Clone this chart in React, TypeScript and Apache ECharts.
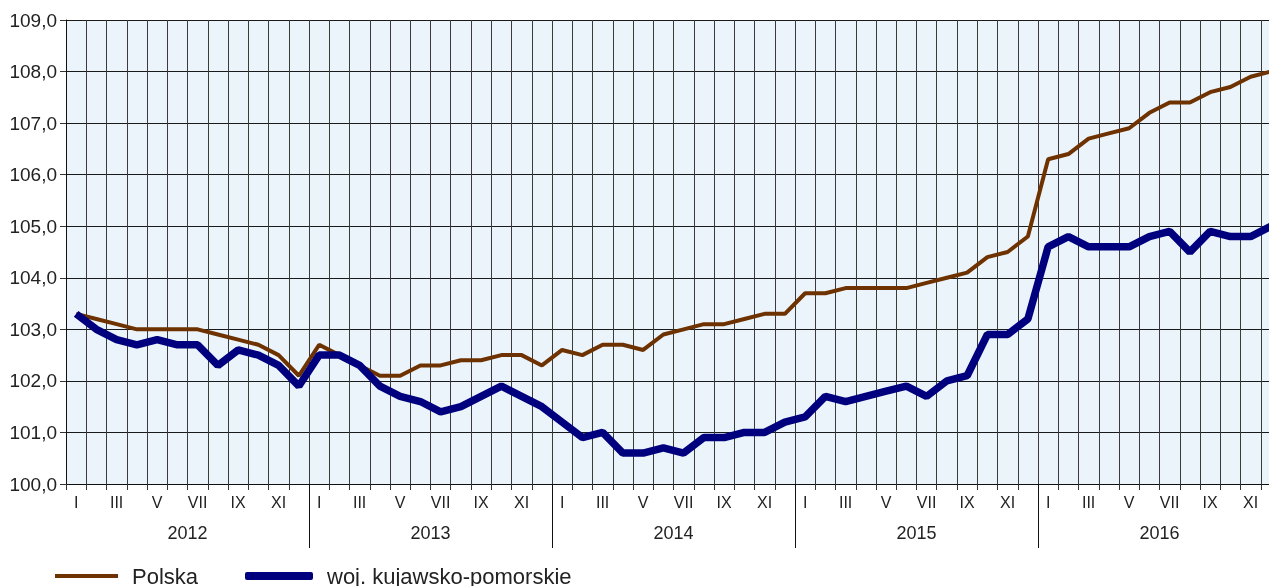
import React, { useEffect, useRef } from "react";
import * as echarts from "echarts";

const monthLabels = ["I", "II", "III", "IV", "V", "VI", "VII", "VIII", "IX", "X", "XI", "XII"];
const years = ["2012", "2013", "2014", "2015", "2016"];
const categories = years.flatMap((y) => monthLabels.map((m) => m + " " + y));

const polska = [
  103.3, 103.2, 103.1, 103.0, 103.0, 103.0, 103.0, 102.9, 102.8, 102.7, 102.5, 102.1,
  102.7, 102.5, 102.3, 102.1, 102.1, 102.3, 102.3, 102.4, 102.4, 102.5, 102.5, 102.3,
  102.6, 102.5, 102.7, 102.7, 102.6, 102.9, 103.0, 103.1, 103.1, 103.2, 103.3, 103.3,
  103.7, 103.7, 103.8, 103.8, 103.8, 103.8, 103.9, 104.0, 104.1, 104.4, 104.5, 104.8,
  106.3, 106.4, 106.7, 106.8, 106.9, 107.2, 107.4, 107.4, 107.6, 107.7, 107.9, 108.0,
];

const kujawsko = [
  103.3, 103.0, 102.8, 102.7, 102.8, 102.7, 102.7, 102.3, 102.6, 102.5, 102.3, 101.9,
  102.5, 102.5, 102.3, 101.9, 101.7, 101.6, 101.4, 101.5, 101.7, 101.9, 101.7, 101.5,
  101.2, 100.9, 101.0, 100.6, 100.6, 100.7, 100.6, 100.9, 100.9, 101.0, 101.0, 101.2,
  101.3, 101.7, 101.6, 101.7, 101.8, 101.9, 101.7, 102.0, 102.1, 102.9, 102.9, 103.2,
  104.6, 104.8, 104.6, 104.6, 104.6, 104.8, 104.9, 104.5, 104.9, 104.8, 104.8, 105.0,
];

const seriesNames = ["Polska", "woj. kujawsko-pomorskie"];
const FONT = "'Liberation Sans', Arial, sans-serif";

export default function App() {
  const ref = useRef<HTMLDivElement>(null);
  useEffect(() => {
    if (!ref.current) return;
    const chart = echarts.init(ref.current, null, { renderer: "svg" });
    chart.setOption({
      animation: false,
      textStyle: { fontFamily: FONT },
      grid: { left: 66, right: 9, top: 20, bottom: 102, show: true, backgroundColor: "#EBF4FA", borderWidth: 0 },
      legend: [
        {
          data: [seriesNames[0]],
          left: 55,
          top: 565,
          padding: 0,
          itemWidth: 63,
          itemHeight: 4,
          icon: "rect",
          textStyle: { fontSize: 22, color: "#222", fontFamily: FONT, padding: [0, 0, 0, 9] },
        },
        {
          data: [seriesNames[1]],
          left: 245,
          top: 565,
          padding: 0,
          itemWidth: 68,
          itemHeight: 8,
          icon: "roundRect",
          textStyle: { fontSize: 22, color: "#222", fontFamily: FONT, padding: [0, 0, 0, 9] },
        },
      ],
      xAxis: [
        {
          type: "category",
          data: categories,
          boundaryGap: true,
          position: "bottom",
          axisLine: { show: true, lineStyle: { color: "#111", width: 1 } },
          axisTick: { show: true, interval: 0, length: 6, lineStyle: { color: "#333" } },
          axisLabel: {
            interval: 1,
            margin: 10,
            fontSize: 16,
            color: "#222",
            fontFamily: FONT,
            formatter: (v: string) => v.split(" ")[0],
          },
          splitLine: { show: true, interval: 0, lineStyle: { color: "#3a3a3a", width: 1 } },
        },
        {
          type: "category",
          data: years,
          boundaryGap: true,
          position: "bottom",
          axisLine: { show: false },
          axisTick: {
            show: true,
            length: 64,
            interval: (index: number) => index !== 0,
            lineStyle: { color: "#111", width: 1 },
          },
          axisLabel: { margin: 40, fontSize: 18, color: "#222", fontFamily: FONT },
          splitLine: { show: false },
        },
      ],
      yAxis: {
        type: "value",
        min: 100,
        max: 109,
        interval: 1,
        axisLine: { show: true, lineStyle: { color: "#111", width: 1 } },
        axisTick: { show: true, length: 6, lineStyle: { color: "#333" } },
        axisLabel: {
          margin: 9,
          fontSize: 19,
          color: "#222",
          fontFamily: FONT,
          formatter: (v: number) => v.toFixed(1).replace(".", ","),
        },
        splitLine: { show: true, lineStyle: { color: "#1a1a1a", width: 1 } },
      },
      series: [
        {
          name: seriesNames[0],
          type: "line",
          data: polska,
          showSymbol: false,
          symbol: "none",
          itemStyle: { color: "#6E3200" },
          lineStyle: { color: "#6E3200", width: 4 },
        },
        {
          name: seriesNames[1],
          type: "line",
          data: kujawsko,
          showSymbol: false,
          symbol: "none",
          itemStyle: { color: "#00007F" },
          lineStyle: { color: "#00007F", width: 7.5 },
        },
      ],
    });
    return () => chart.dispose();
  }, []);
  return (
    <div style={{ position: "fixed", left: 0, top: 0, width: 1269, height: 586, overflow: "hidden" }}>
      <div ref={ref} style={{ width: 1290, height: 586 }} />
    </div>
  );
}
